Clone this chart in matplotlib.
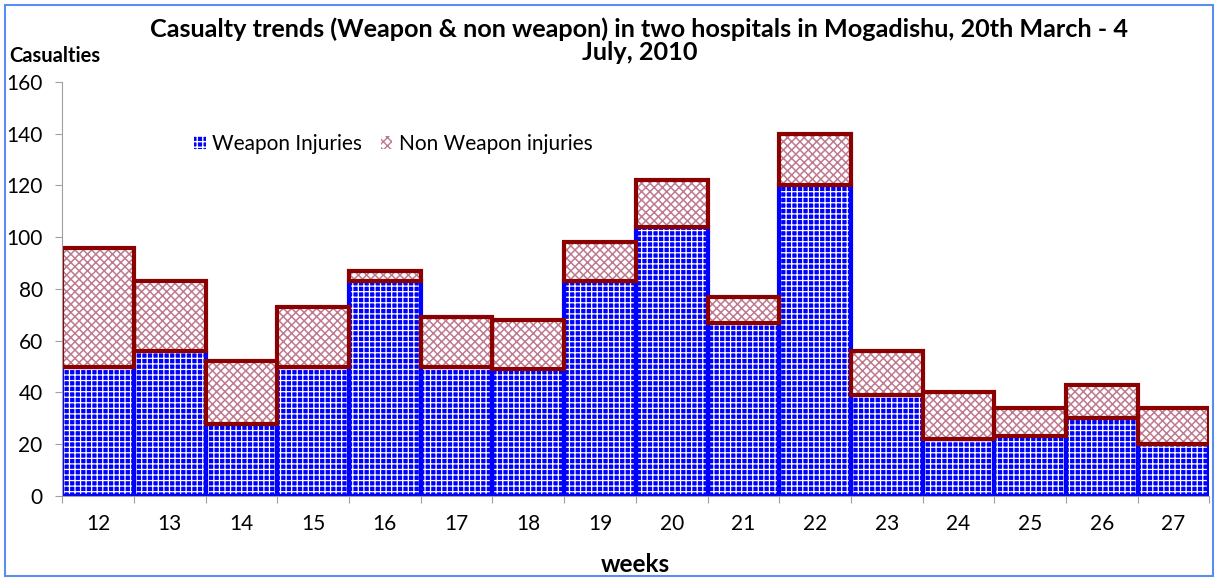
import matplotlib.pyplot as plt
from matplotlib.patches import Rectangle
import numpy as np

plt.rcParams['font.family'] = ['Lato', 'DejaVu Sans']

weeks = [12, 13, 14, 15, 16, 17, 18, 19, 20, 21, 22, 23, 24, 25, 26, 27]
weapon = [50, 56, 28, 50, 83, 50, 49, 83, 104, 67, 120, 39, 22, 23, 30, 20]
non_weapon = [46, 27, 24, 23, 4, 19, 19, 15, 18, 10, 20, 17, 18, 11, 13, 14]

fig = plt.figure(figsize=(12.18, 5.81), dpi=100)
ax = fig.add_axes([0.051, 0.1463, 0.942, 0.7127])

# weapon bars: blue with white check pattern, then a solid blue outline
with plt.rc_context({'hatch.linewidth': 0.9}):
    ax.bar(weeks, weapon, width=1.0, color="#0000ff", edgecolor="white",
           hatch="+++", linewidth=0, label="Weapon Injuries")
ax.bar(weeks, weapon, width=1.0, facecolor="none", edgecolor="#0000ff",
       linewidth=3)

# non weapon bars stacked on top
with plt.rc_context({'hatch.linewidth': 1.1}):
    ax.bar(weeks, non_weapon, bottom=weapon, width=1.0, color="white",
           edgecolor="#bf7a90", hatch="xxxx", linewidth=0,
           label="Non Weapon injuries")
ax.bar(weeks, non_weapon, bottom=weapon, width=1.0, facecolor="none",
       edgecolor="#8b0000", linewidth=3)

ax.set_xlim(weeks[0] - 0.5, weeks[-1] + 0.5)
ax.set_ylim(0, 160)
ax.set_yticks(np.arange(0, 161, 20))
ax.tick_params(axis="y", direction="out", length=5, color="#a0a0a0",
               labelsize=15, pad=9)

bounds = np.arange(weeks[0] - 0.5, weeks[-1] + 1, 1)
ax.set_xticks(bounds)
ax.set_xticklabels([])
ax.tick_params(axis="x", direction="out", length=5, color="#a0a0a0")
ax.set_xticks(weeks, minor=True)
ax.set_xticklabels([str(w) for w in weeks], minor=True)
ax.tick_params(axis="x", which="minor", length=0, labelsize=15, pad=13)

for s in ["top", "right"]:
    ax.spines[s].set_visible(False)
ax.spines["left"].set_color("#a0a0a0")
ax.spines["bottom"].set_color("#a0a0a0")

ax.set_xlabel("weeks", fontsize=17.5, fontweight="bold", labelpad=14)

fig.text(0.525, 0.93, "Casualty trends (Weapon & non weapon) in two hospitals in Mogadishu, 20th March - 4\nJuly, 2010",
         ha="center", va="center", fontsize=18.2, fontweight="bold",
         linespacing=1.0)
fig.text(0.008, 0.903, "Casualties", ha="left", va="center", fontsize=14.5,
         fontweight="bold")

ax.legend(loc="upper left", bbox_to_anchor=(0.108, 0.895), ncol=2,
          frameon=False, fontsize=15, handlelength=0.55, handleheight=0.55,
          handletextpad=0.3, columnspacing=0.9, borderaxespad=0)

fig.patches.append(Rectangle((5 / 1218, 5 / 581), 1208 / 1218, 571 / 581,
                             transform=fig.transFigure, fill=False,
                             edgecolor="#5b8def", linewidth=1.5))

fig.savefig("out.png", dpi=100)
